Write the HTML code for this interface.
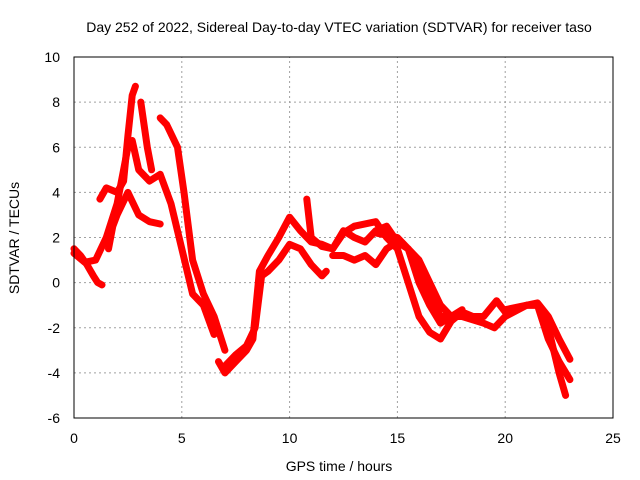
<!DOCTYPE html>
<html><head><meta charset="utf-8"><style>
body{margin:0;background:#fff}
svg{display:block;font-family:"Liberation Sans",sans-serif;font-size:14px}
</style></head><body>
<svg id="chart" width="640" height="480">
<text x="339" y="32" text-anchor="middle">Day 252 of 2022, Sidereal Day-to-day VTEC variation (SDTVAR) for receiver taso</text>
<text x="339" y="471" text-anchor="middle">GPS time / hours</text>
<text transform="translate(19,238) rotate(-90)" text-anchor="middle">SDTVAR / TECUs</text>
<g id="grid"></g><g id="ticks"></g><g id="series"></g>
<rect x="74" y="57" width="539" height="361" fill="none" stroke="#000"/>
</svg>
<script>
const xTicks=[0,5,10,15,20,25];
const yTicks=[-6,-4,-2,0,2,4,6,8,10];
const arcA_t=[0,0.3,0.6,0.9,1.1,1.3];
const arcA_v=[1.5,1.2,0.8,0.3,0,-0.1];
const arcB_t=[0,0.5,1,1.5,2,2.3,2.5,2.7,3,3.5,4,4.5,5,5.5,6,6.5];
const arcB_v=[1.3,0.9,1,2,3.5,5,6,6.3,5,4.5,4.8,3.5,1.5,-0.5,-1,-2.3];
const arcC_t=[1.2,1.5,2,2.3,2.5,2.7,2.85];
const arcC_v=[3.7,4.2,4,4.5,6.5,8.3,8.7];
const arcC2_t=[3.1,3.4,3.6];
const arcC2_v=[8,6,5];
const arcC3_t=[4,4.3,4.8,5.1,5.5,6,6.5,7];
const arcC3_v=[7.3,7,6,4,1,-0.5,-1.5,-3];
const arcD_t=[1.6,1.8,2,2.5,3,3.5,4];
const arcD_v=[1.5,2.5,3,4,3,2.7,2.6];
const arcE_t=[6.7,7,7.5,8,8.3,8.6,9,9.5,10,10.5,11,11.5,12,12.5,13,14,14.5,15,15.5,16,16.5,17,17.5,18];
const arcE_v=[-3.5,-4,-3.5,-3,-2.5,0.5,1.2,2,2.9,2.3,1.8,1.7,1.5,2.2,2.5,2.7,2,1.5,0,-1.5,-2.2,-2.5,-1.7,-1.3];
const arcF_t=[7,7.5,8,8.4,8.7,9,9.5,10,10.5,11,11.5,11.7];
const arcF_v=[-3.7,-3.2,-2.8,-2,0.3,0.5,1,1.7,1.5,0.8,0.3,0.5];
const arcG_t=[10.8,11,11.5,12,12.5,13,13.5,14,14.5,15,15.5,16,16.5,17,18,19,19.5,20,21,21.5,22,22.5,22.8];
const arcG_v=[3.7,2,1.6,1.5,2.3,2,1.8,2.3,2.5,1.8,1.5,0.5,-0.5,-1.5,-1.5,-1.8,-2,-1.5,-1,-1,-2,-4,-5];
const arcH_t=[12,12.5,13,13.5,14,14.5,15,15.5,16,16.5,17,17.5,18,18.5,19,19.6,20,21,21.5,22,22.5,23];
const arcH_v=[1.2,1.2,1,1.2,0.8,1.5,1.8,1.5,1,0,-1,-1.5,-1.3,-1.5,-1.5,-0.8,-1.3,-1,-0.9,-1.5,-2.5,-3.4];
const arcI_t=[20,21,21.5,22,22.5,23];
const arcI_v=[-1.2,-1,-1,-2.5,-3.5,-4.3];
const arcJ_t=[14,15,15.5,16,16.5,17,17.5,18];
const arcJ_v=[2.2,2,1.5,0,-1,-1.8,-1.5,-1.2];
const series=[[arcA_t,arcA_v],[arcB_t,arcB_v],[arcC_t,arcC_v],[arcC2_t,arcC2_v],[arcC3_t,arcC3_v],[arcD_t,arcD_v],[arcE_t,arcE_v],[arcF_t,arcF_v],[arcG_t,arcG_v],[arcH_t,arcH_v],[arcI_t,arcI_v],[arcJ_t,arcJ_v]];
const X0=74,X1=613,Y0=418,Y1=57;
function xs(t){return X0+(t-0)/(25-0)*(X1-X0);}
function ys(v){return Y0-(v+6)/(16)*(Y0-Y1);}
const NS="http://www.w3.org/2000/svg";
const grid=document.getElementById('grid'),ticks=document.getElementById('ticks'),sg=document.getElementById('series');
function mk(tag,attrs,parent){const e=document.createElementNS(NS,tag);for(const k in attrs)e.setAttribute(k,attrs[k]);parent.appendChild(e);return e;}
xTicks.forEach(t=>{const x=xs(t);
 if(t>0&&t<25){const g=mk('line',{x1:x,x2:x,y1:Y0,y2:Y1,stroke:'#a0a0a0','stroke-dasharray':'2,3'},grid);
 
 }
 const l=mk('text',{x:x,y:Y0+25,'text-anchor':'middle'},ticks);l.textContent=t;
 
 
});
yTicks.forEach(v=>{const y=ys(v);
 if(v>-6&&v<10){const g=mk('line',{x1:X0,x2:X1,y1:y,y2:y,stroke:'#a0a0a0','stroke-dasharray':'2,3'},grid);
 
 }
 const l=mk('text',{x:X0-14,y:y+5,'text-anchor':'end'},ticks);l.textContent=v;
 
 
});
series.forEach(([t,v])=>{
 const pts=t.map((tt,i)=>xs(tt).toFixed(1)+','+ys(v[i]).toFixed(1)).join(' ');
 const p=mk('polyline',{points:pts,fill:'none',stroke:'#ff0000','stroke-width':7,'stroke-linejoin':'round','stroke-linecap':'round'},sg);
 
 
});
</script>
</body></html>
